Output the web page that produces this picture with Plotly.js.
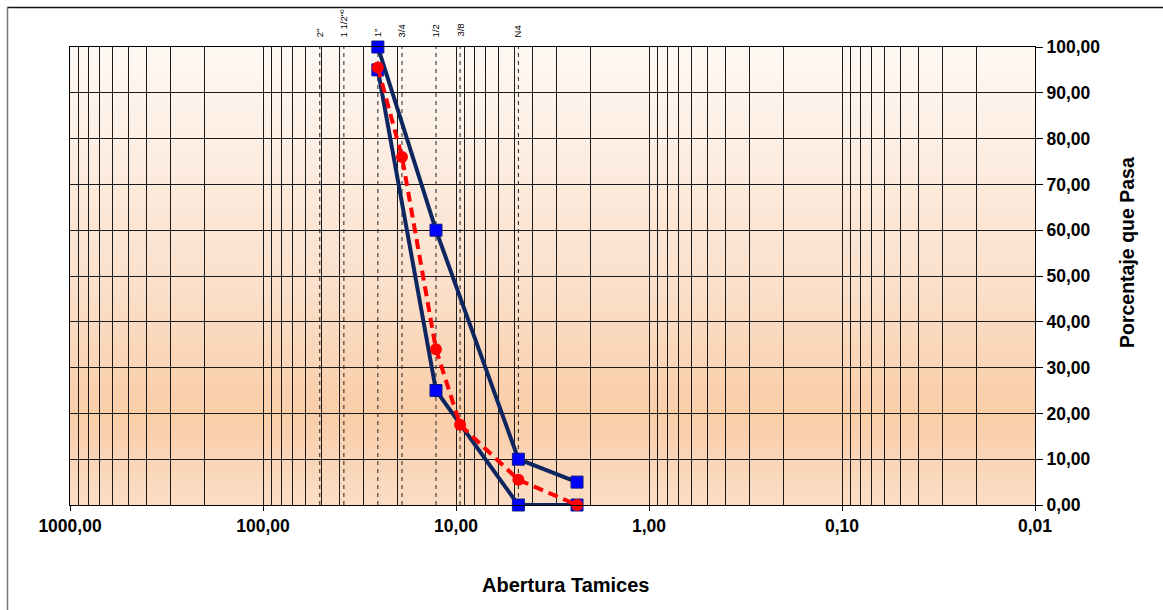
<!DOCTYPE html>
<html>
<head>
<meta charset="utf-8">
<script src="https://cdn.plot.ly/plotly-3.0.1.min.js"></script>
<style>html,body{margin:0;padding:0;background:#fff;}#chart{width:1163px;height:610px;}</style>
</head>
<body>
<div id="chart"></div>
<script>
// ---- data ----
var sieveSizes = [50.8, 38.1, 25.4, 19.05, 12.7, 9.525, 4.75];
var sieveLabels = ['2"', '1 1/2"º', '1"', '3/4', '1/2', '3/8', 'N4'];

var bandX = [25.4, 12.7, 4.75, 2.36];
var upperY = [100, 60, 10, 5];
var lowerY = [95, 25, 0, 0];

var sampleX = [25.4, 19.05, 12.7, 9.525, 4.75, 2.36];
var sampleY = [95.5, 76, 34, 17.5, 5.5, 0];

var xTickVals = [1000, 100, 10, 1, 0.1, 0.01];
var xTickText = ['1000,00', '100,00', '10,00', '1,00', '0,10', '0,01'];
var yTickVals = [0, 10, 20, 30, 40, 50, 60, 70, 80, 90, 100];
var yTickText = ['0,00', '10,00', '20,00', '30,00', '40,00', '50,00', '60,00', '70,00', '80,00', '90,00', '100,00'];

// ---- layout geometry ----
var W = 1163, H = 610;
var L = 70, R = 128, T = 47, B = 105;
var pw = W - L - R, ph = H - T - B;
function px2x(px) { return (px - L) / pw; }
function py2y(py) { return (H - B - py) / ph; }

var FONT = 'Arial, "Liberation Sans", sans-serif';

// minor grid values
var minorVals = [];
for (var e = -2; e < 3; e++) {
  for (var m = 2; m <= 9; m++) minorVals.push(m * Math.pow(10, e));
}

// gradient background
function lerp(a, b, t) { return a + (b - a) * t; }
var stops = [
  [0.0, [251, 221, 197]],
  [0.2, [249, 205, 168]],
  [0.5, [251, 225, 205]],
  [1.0, [254, 248, 243]]
];
function colAt(t) {
  for (var i = 0; i < stops.length - 1; i++) {
    if (t >= stops[i][0] && t <= stops[i + 1][0]) {
      var f = (t - stops[i][0]) / (stops[i + 1][0] - stops[i][0]);
      var c = [0, 1, 2].map(function (k) { return Math.round(lerp(stops[i][1][k], stops[i + 1][1][k], f)); });
      return 'rgb(' + c.join(',') + ')';
    }
  }
  return 'rgb(254,248,243)';
}
var shapes = [];
var N = 92;
for (var i = 0; i < N; i++) {
  var y0 = i / N, y1 = (i + 1) / N + 0.002;
  shapes.push({type: 'rect', xref: 'paper', yref: 'paper', x0: 0, x1: 1, y0: y0, y1: Math.min(y1, 1),
    fillcolor: colAt((i + 0.5) / N), line: {width: 0}, layer: 'below'});
}
// outer chart border (top and left)
shapes.push({type: 'line', xref: 'paper', yref: 'paper', x0: px2x(7), x1: px2x(1175), y0: py2y(7.5), y1: py2y(7.5), line: {color: '#111', width: 1.5}});
shapes.push({type: 'line', xref: 'paper', yref: 'paper', x0: px2x(7.5), x1: px2x(7.5), y0: py2y(7), y1: py2y(620), line: {color: '#777', width: 1.5}});

var traces = [];
// sieve dashed lines
sieveSizes.forEach(function (s) {
  traces.push({x: [s, s], y: [0, 100], mode: 'lines', type: 'scatter', hoverinfo: 'skip', showlegend: false,
    line: {color: '#222', width: 1, dash: '4px,4px'}});
});
traces.push({x: bandX, y: upperY, mode: 'lines+markers', type: 'scatter', showlegend: false, cliponaxis: false,
  line: {color: '#0d2660', width: 4},
  marker: {symbol: 'square', size: 12, color: '#0000ff', line: {color: '#101880', width: 1}}});
traces.push({x: bandX, y: lowerY, mode: 'lines+markers', type: 'scatter', showlegend: false, cliponaxis: false,
  line: {color: '#0d2660', width: 4},
  marker: {symbol: 'square', size: 12, color: '#0000ff', line: {color: '#101880', width: 1}}});
traces.push({x: sampleX, y: sampleY, mode: 'lines+markers', type: 'scatter', showlegend: false, cliponaxis: false,
  line: {color: '#ff0000', width: 4, dash: '10px,6px'},
  marker: {symbol: 'circle', size: 12, color: '#ff0000'}});

var annotations = [];
sieveSizes.forEach(function (s, i) {
  annotations.push({x: Math.log10(s), xref: 'x', y: py2y(39), yref: 'paper', text: sieveLabels[i],
    showarrow: false, textangle: -90, xanchor: 'center', yanchor: 'bottom',
    font: {family: FONT, size: 9.5, color: '#000'}});
});
annotations.push({x: px2x(565), y: py2y(585), xref: 'paper', yref: 'paper', text: '<b>Abertura Tamices</b>',
  showarrow: false, xanchor: 'center', yanchor: 'middle', font: {family: FONT, size: 20, color: '#000'}});
annotations.push({x: px2x(1127), y: py2y(253), xref: 'paper', yref: 'paper', text: '<b>Porcentaje que Pasa</b>',
  showarrow: false, textangle: -90, xanchor: 'center', yanchor: 'middle', font: {family: FONT, size: 19.5, color: '#000'}});

var layout = {
  width: W, height: H,
  margin: {l: L, r: R, t: T, b: B, pad: 0},
  paper_bgcolor: '#ffffff',
  plot_bgcolor: 'rgba(0,0,0,0)',
  showlegend: false,
  xaxis: {
    type: 'log', range: [3, -2], autorange: false,
    tickmode: 'array', tickvals: xTickVals, ticktext: xTickText,
    ticks: 'outside', ticklen: 5, tickcolor: '#000', tickwidth: 1,
    showgrid: true, gridcolor: '#1a1a1a', gridwidth: 1,
    minor: {tickmode: 'array', tickvals: minorVals, showgrid: true, gridcolor: '#1a1a1a', gridwidth: 1, ticks: ''},
    showline: true, linecolor: '#000', linewidth: 1, mirror: true,
    zeroline: false,
    tickfont: {family: FONT, size: 17.5, color: '#000', weight: 'bold'}
  },
  yaxis: {
    range: [0, 100], autorange: false, side: 'right',
    tickmode: 'array', tickvals: yTickVals, ticktext: yTickText,
    ticks: 'outside', ticklen: 7, tickcolor: '#000', tickwidth: 1,
    showgrid: true, gridcolor: '#1a1a1a', gridwidth: 1,
    showline: true, linecolor: '#000', linewidth: 1, mirror: true,
    zeroline: false,
    tickfont: {family: FONT, size: 17.5, color: '#000', weight: 'bold'}
  },
  shapes: shapes,
  annotations: annotations
};

Plotly.newPlot('chart', traces, layout, {staticPlot: true, displayModeBar: false});
</script>
</body>
</html>
